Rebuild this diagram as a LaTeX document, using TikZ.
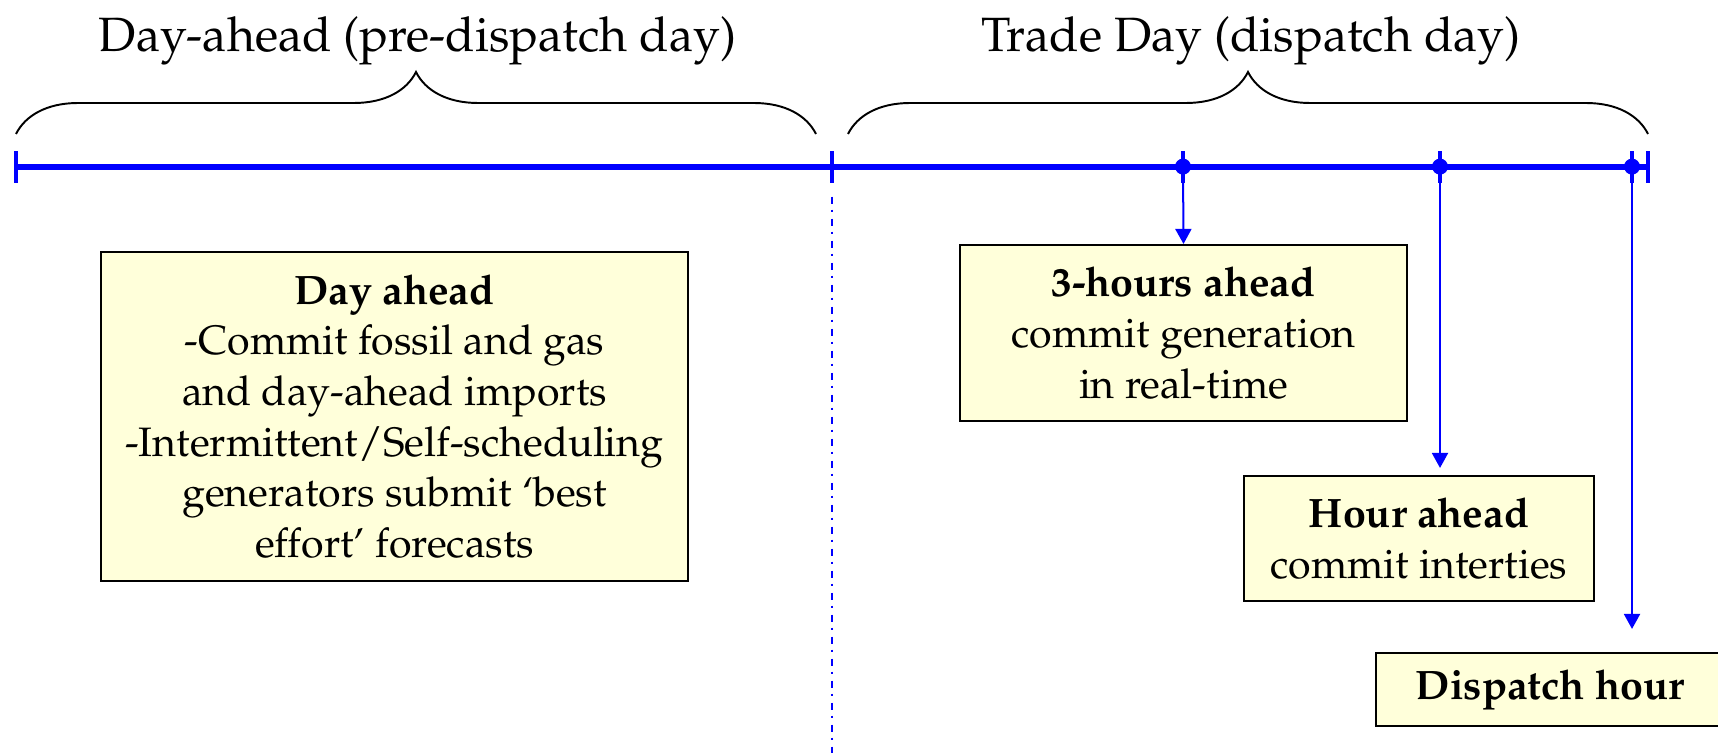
\documentclass[tikz,border=0pt]{standalone}
\usepackage[T1]{fontenc}
\usepackage{mathpazo}
\usepackage{xcolor}
\usepackage{tikz}
\usetikzlibrary{decorations.pathreplacing,arrows.meta}

\definecolor{notefill}{RGB}{255,255,218}

\tikzset{
  note/.style={draw=black, line width=0.6pt, fill=notefill, align=center,
    inner sep=0pt, font=\fontsize{11.7}{14.4}\selectfont},
  tickmark/.style={blue, line width=1.1pt},
  tdot/.style={circle, fill=blue, inner sep=0pt, minimum size=0.16cm},
  brace/.style={decorate, decoration={brace, amplitude=0.62cm}, line width=0.55pt},
  drop/.style={blue, line width=0.57pt, -{Triangle[width=0.16cm,length=0.15cm]}},
  daytitle/.style={anchor=base, font=\fontsize{13.7}{16}\selectfont}
}

\begin{document}
\begin{tikzpicture}
    \useasboundingbox (0,0) rectangle (17.18,7.53);

    % time line
    \coordinate (t0) at (0.16,5.864);
    \coordinate (t1) at (8.32,5.864);
    \coordinate (t2) at (16.48,5.864);
    \coordinate (bottom) at (8.32,0);
    \draw [blue, line width=1.7pt] (t0) -- (t2);
    \foreach \x in {0.16,8.32,11.83,14.40,16.32,16.48}
      \draw [tickmark] (\x,5.704) -- (\x,6.024);
    \node [tdot] (d1) at (11.83,5.864) {};
    \node [tdot] (d2) at (14.40,5.864) {};
    \node [tdot] (d3) at (16.32,5.864) {};

    % braces
    \draw [brace] ([yshift=0.326cm]t0) -- ([xshift=-0.16cm,yshift=0.326cm]t1);
    \draw [brace] ([xshift=0.16cm,yshift=0.326cm]t1) -- ([yshift=0.326cm]t2);
    \node [daytitle] (pre) at (4.175,7.015) {Day-ahead (pre-dispatch day)};
    \node [daytitle] (trade) at (12.51,7.015) {Trade Day (dispatch day)};

    % divider
    \draw [blue, line width=0.57pt, dash pattern=on 0.07cm off 0.06cm on 0.02cm off 0.07cm]
      ([yshift=-0.30cm]t1) -- (bottom);

    % boxes
    \node [note, minimum width=5.87cm, minimum height=3.29cm] (dayahead) at (3.945,3.365)
      {\textbf{Day ahead}\\-Commit fossil and gas\\and day-ahead imports\\-Intermittent/Self-scheduling\\generators submit `best\\effort' forecasts};
    \node [note, minimum width=4.47cm, minimum height=1.76cm] (threehr) at (11.835,4.20)
      {\textbf{3-hours ahead}\\commit generation\\in real-time};
    \node [note, minimum width=3.5cm, minimum height=1.25cm] (hourahead) at (14.19,2.145)
      {\textbf{Hour ahead}\\commit interties};
    \node [note, minimum width=3.48cm, minimum height=0.73cm] (dispatch) at (15.5,0.635)
      {\textbf{Dispatch hour}};

    % arrows
    \draw [drop] (d1) -- (threehr.north);
    \draw [drop, shorten >=0.07cm] (d2) -- (d2 |- hourahead.north);
    \draw [drop, shorten >=0.23cm] (d3) -- (d3 |- dispatch.north);
\end{tikzpicture}
\end{document}
